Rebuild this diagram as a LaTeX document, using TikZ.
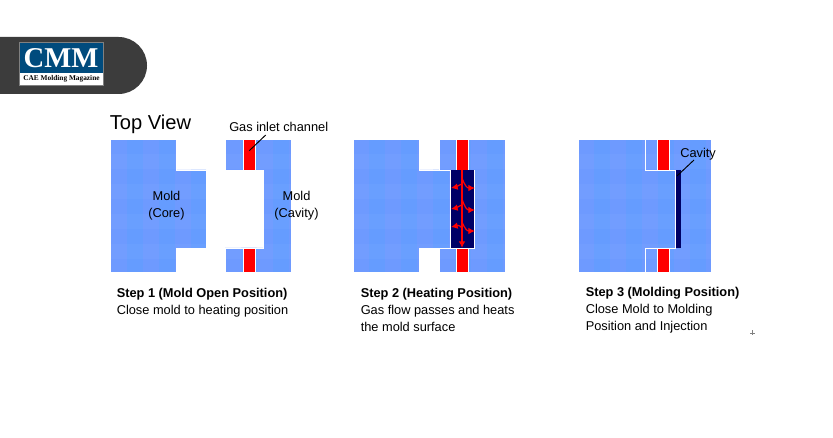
\documentclass[tikz,border=0pt]{standalone}
\usepackage{fontspec}
\setmainfont{Liberation Sans}
\newfontfamily\logofont{Liberation Serif}
\usepackage{xcolor}
\usetikzlibrary{calc,arrows.meta}
\definecolor{moldblue}{HTML}{6E9AFF}
\definecolor{tileblue}{HTML}{659CFF}
\definecolor{gasred}{HTML}{FF0000}
\definecolor{cavblue}{HTML}{000066}
\definecolor{bandgrey}{HTML}{3C3C3C}
\definecolor{logoblue}{HTML}{004B7D}
\tikzset{
  mold/.style={fill=moldblue, draw=white, line width=0.6pt, path picture={
    \foreach \i in {1,3,...,9} {
      \fill[tileblue] ($(path picture bounding box.north west)+(\i*16,0)$) rectangle +(16,140);
    }
    \foreach \j in {1,3,...,9} {
      \fill[white, opacity=0.03] ($(path picture bounding box.north west)+(0,\j*15)$) rectangle +(140,15);
    }
  }},
  gas/.style={fill=gasred, draw=white, line width=0.5pt},
  cav/.style={fill=cavblue},
  label/.style={font=\fontsize{9.6pt}{13pt}\selectfont, inner sep=0pt, align=center},
  steptext/.style={font=\fontsize{9.6pt}{13pt}\selectfont, inner sep=0pt, align=left, anchor=north west},
  leader/.style={black, line width=0.7pt},
  flow/.style={-{Latex[length=5pt,width=5pt]}, gasred, line width=0.9pt}
}
\begin{document}
\begin{tikzpicture}[x=0.75pt, y=-0.75pt]
  \useasboundingbox (0,0) rectangle (833,438);

  % Logo band
  \fill[bandgrey] (0,37) -- (118.5,37) arc (-90:90:28.5) -- (0,94) -- cycle;
  \draw[gray, fill=white, line width=0.5pt] (19.5,42.5) rectangle (103.5,85.5);
  \fill[logoblue] (20,43) rectangle (103,73);
  \node[white, font=\logofont\fontsize{21.5pt}{23pt}\bfseries\selectfont, inner sep=0pt] (logo) at (61,58) {CMM};
  \node[black, font=\logofont\fontsize{5.5pt}{6pt}\bfseries\selectfont, inner sep=0pt] (logotext) at (61.5,79) {CAE Molding Magazine};

  % Title
  \node[anchor=west, font=\fontsize{15.1pt}{18pt}\selectfont, inner sep=0pt] (title) at (109.5,124) {Top View};

  % Step 1
  \path[mold] (110.7,139.5) -- (176,139.5) -- (176,170) -- (206,170) -- (206,248) -- (176,248) -- (176,272.7) -- (110.7,272.7) -- cycle;
  \path[mold] (225,139.5) -- (291,139.5) -- (291,272.7) -- (225,272.7) -- (225,248) -- (263,248) -- (263,170) -- (225,170) -- cycle;
  \path[gas] (243.5,139.5) rectangle (255.5,170);
  \path[gas] (243.5,248) rectangle (255.5,272.7);
  \node[label] (core) at (166.5,205.5) {Mold\\(Core)};
  \node[label] (cavity) at (296.5,205.5) {Mold\\(Cavity)};
  \node[label, anchor=west] (inlet) at (229,127) {Gas inlet channel};
  \coordinate (inletstart) at (265.7,135);
  \coordinate (inletend) at (249.3,150.7);
  \draw[leader] (inletstart) -- (inletend);
  \node[steptext] (step1) at (116.5,287.5) {\textbf{Step 1 (Mold Open Position)}\\Close mold to heating position};

  % Step 2
  \path[mold] (353.3,139.5) -- (419,139.5) -- (419,170) -- (450.7,170) -- (450.7,248) -- (419,248) -- (419,272.7) -- (353.3,272.7) -- cycle;
  \path[mold] (439,139.5) -- (505,139.5) -- (505,272.7) -- (439,272.7) -- (439,248) -- (474,248) -- (474,170) -- (439,170) -- cycle;
  \path[gas] (456.3,139.5) rectangle (468.3,170);
  \path[gas] (456.3,248) rectangle (468.3,272.7);
  \fill[cav] (450.7,170) rectangle (474,248);
  \draw[white, line width=0.6pt] (450.7,170) -- (450.7,248);
  \draw[flow] (462,170) -- (462,248);
  \foreach \y/\ly/\ry in {178/188/188, 199/209/210, 222/227/231} {
    \draw[flow] (462,\y+6) .. controls (459,\ly-3) and (456,\ly-1) .. (451,\ly);
    \draw[flow] (462,\y) .. controls (465,\ry-2) and (467,\ry) .. (475,\ry);
  }
  \node[steptext] (step2) at (360.5,287.5) {\textbf{Step 2 (Heating Position)}\\Gas flow passes and heats\\the mold surface};

  % Step 3
  \path[mold] (578.3,139.5) rectangle (711.5,272.7);
  \draw[white, line width=0.7pt] (645,139.5) -- (645,170) -- (675.7,170) -- (675.7,248) -- (645,248) -- (645,272.7);
  \path[gas] (657.7,139.5) rectangle (669.5,170);
  \path[gas] (657.7,248) rectangle (669.5,272.7);
  \fill[cav] (675.7,170) rectangle (681,248);
  \node[label, anchor=west] (cavlabel) at (680,154) {Cavity};
  \coordinate (cavstart) at (694,160);
  \coordinate (cavend) at (677,176);
  \draw[leader] (cavstart) -- (cavend);
  \node[steptext] (step3) at (585.5,286.5) {\textbf{Step 3 (Molding Position)}\\Close Mold to Molding\\Position and Injection};

  % Small cross
  \draw[gray, line width=0.6pt] (750,333) -- (755,333) (752.5,330.5) -- (752.5,335.5);
\end{tikzpicture}
\end{document}
